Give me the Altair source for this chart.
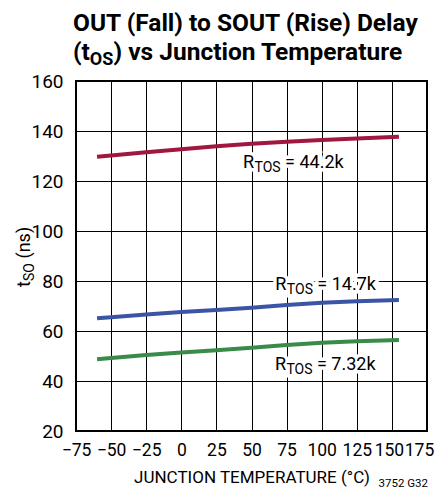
import altair as alt
import pandas as pd

# ---- data ----
temps = [-60, -50, -25, 0, 25, 50, 75, 100, 125, 155]
r_44k2 = [129.7, 130.2, 131.5, 132.7, 133.9, 134.9, 135.7, 136.4, 137.0, 137.7]
r_14k7 = [65.1, 65.5, 66.6, 67.6, 68.4, 69.3, 70.4, 71.3, 71.9, 72.4]
r_7k32 = [48.7, 49.2, 50.4, 51.4, 52.3, 53.3, 54.4, 55.3, 55.9, 56.4]
series = ["44.2k", "14.7k", "7.32k"]
colors = ["#A0173F", "#3B55A6", "#3A8A4A"]
label_temp = [44, 67, 66.7]
label_val = [125.2, 76.4, 44.4]
label_rest = ["= 44.2k", "= 14.7k", "= 7.32k"]
x_ticks = [-75, -50, -25, 0, 25, 50, 75, 100, 125, 150, 175]
y_ticks = [20, 40, 60, 80, 100, 120, 140, 160]

FONT = "Roboto"

rows = []
for name, vals in zip(series, [r_44k2, r_14k7, r_7k32]):
    for t, v in zip(temps, vals):
        rows.append({"series": name, "temp": t, "val": v})
df = pd.DataFrame(rows)

lab = pd.DataFrame({"series": series, "temp": label_temp, "val": label_val,
                    "r": ["R"] * 3, "sub": ["TOS"] * 3, "rest": label_rest})

xscale = alt.Scale(domain=[-75, 175], nice=False, zero=False)
yscale = alt.Scale(domain=[20, 160], nice=False, zero=False)

xaxis = alt.Axis(values=x_ticks, tickCount=11, grid=True, gridColor="black", gridWidth=1,
                 tickSize=0, domain=False, labelFont=FONT, labelFontSize=17.5,
                 labelColor="black", labelPadding=10, labelFlush=False,
                 labelOverlap=False,
                 labelOffset={"condition": [
                     {"test": "datum.value === 175", "value": -8},
                     {"test": "datum.value === 150", "value": -3}],
                     "value": 0},
                 title="JUNCTION TEMPERATURE (°C)", titleFont=FONT,
                 titleFontSize=17, titleFontWeight="normal", titleColor="black",
                 titleY=51, titleBaseline="alphabetic")
yaxis = alt.Axis(values=y_ticks, tickCount=8, grid=True, gridColor="black", gridWidth=1,
                 tickSize=0, domain=False, labelFont=FONT, labelFontSize=19,
                 labelColor="black", labelPadding=13, labelFlush=False,
                 labelOverlap=False, title=None)

X = lambda: alt.X("temp:Q", scale=xscale, axis=xaxis)
Y = lambda: alt.Y("val:Q", scale=yscale, axis=yaxis)

lines = alt.Chart(df).mark_line(strokeWidth=4, strokeCap="butt").encode(
    x=X(), y=Y(),
    color=alt.Color("series:N", scale=alt.Scale(domain=series, range=colors), legend=None),
)

pieces = [("r", 0, 0, 18), ("sub", 11.5, 4, 14), ("rest", 42, 0, 18)]

def lab_mark(field, dx, dy, size, halo):
    base = alt.Chart(lab).encode(x=X(), y=Y(), text=f"{field}:N")
    if halo:
        return base.mark_text(align="left", baseline="alphabetic", font=FONT, fontSize=size,
                              dx=dx, dy=dy, stroke="white", strokeWidth=7, fill="white")
    return base.mark_text(align="left", baseline="alphabetic", font=FONT, fontSize=size,
                          dx=dx, dy=dy, color="black")

halos = [lab_mark(f, dx, dy, s, True) for f, dx, dy, s in pieces]
texts = [lab_mark(f, dx, dy, s, False) for f, dx, dy, s in pieces]

def txt(s, x, y, size, weight="normal", angle=0, align="left"):
    return alt.Chart(alt.Data(values=[{"t": s}])).mark_text(
        align=align, baseline="alphabetic", font=FONT, fontSize=size,
        fontWeight=weight, angle=angle, color="black").encode(
        x=alt.value(x), y=alt.value(y), text="t:N")

titles = [
    txt("OUT (Fall) to SOUT (Rise) Delay", -3, -50, 24.5, "bold"),
    txt("(t", -3, -21, 24.5, "bold"),
    txt("OS", 13.8, -16, 18, "bold"),
    txt(") vs Junction Temperature", 37.5, -21, 24.5, "bold"),
    txt("t", -46, 206, 18, angle=270),
    txt("SO", -42, 200, 14, angle=270),
    txt("(ns)", -46, 177.5, 18, angle=270),
    txt("3752 G32", 352, 406, 11.5, align="right"),
]

chart = alt.layer(lines, *halos, *texts, *titles).properties(
    width=351, height=350,
    autosize=alt.AutoSizeParams(type="none"),
    padding={"left": 68, "top": 73, "right": 8, "bottom": 61},
).configure_view(stroke="black", strokeWidth=2)

chart.save("out.html", embed_options={"renderer": "svg", "actions": False})
